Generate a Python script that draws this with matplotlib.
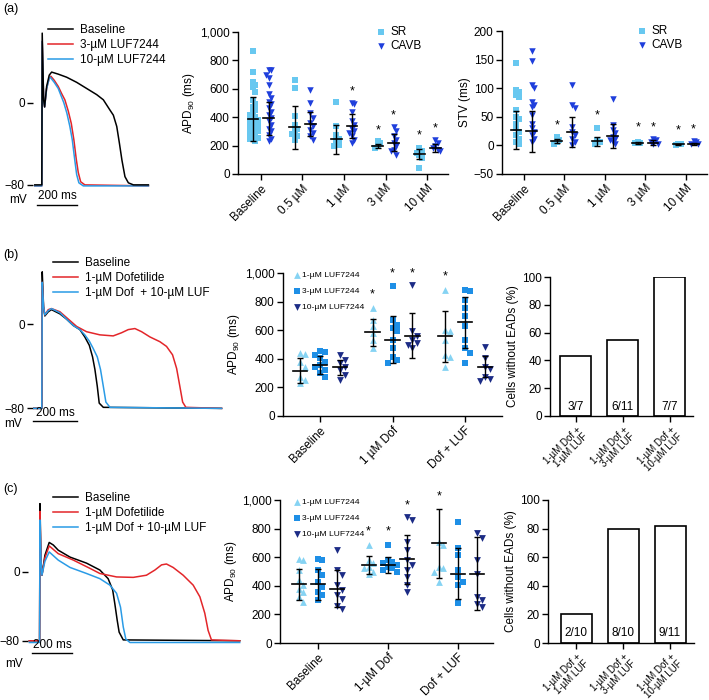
import numpy as np
import matplotlib
matplotlib.use('Agg')
from matplotlib import pyplot as plt
from matplotlib.ticker import FuncFormatter

plt.rcParams['font.family'] = ['Liberation Sans', 'DejaVu Sans']
plt.rcParams['mathtext.fontset'] = 'custom'
plt.rcParams['mathtext.rm'] = 'Liberation Sans'
plt.rcParams['mathtext.default'] = 'regular'
plt.rcParams['font.size'] = 8
plt.rcParams['axes.linewidth'] = 1.0

# ---------------- action potential traces (ms, mV) ----------------
a_base_t = [-37, -2, 0, 7, 12, 22, 35, 47, 80, 122, 172, 222, 272, 305, 338, 355, 372, 385, 398, 413, 430, 455, 530]
a_base_v = [-80, -80, 68, 3, -4, 16, 27, 30, 28, 25, 20, 14, 8, 3, -7, -12, -23, -39, -56, -72, -78, -80, -80]
a_luf3_t = [-37, -2, 0, 7, 12, 22, 35, 43, 60, 80, 97, 113, 130, 145, 158, 170, 180, 192, 213, 530]
a_luf3_v = [-81, -81, 60, 3, -4, 14, 24, 26, 22, 16, 9, 3, -8, -20, -36, -55, -68, -77, -80, -81]
a_luf10_t = [-37, -2, 0, 7, 12, 22, 35, 40, 60, 80, 92, 108, 123, 138, 150, 162, 172, 183, 205, 530]
a_luf10_v = [-81, -81, 60, 3, -4, 14, 24, 25, 20, 14, 8, 0, -10, -23, -36, -55, -70, -78, -81, -81]

b_base_t = [-50, -2, 0, 6, 12, 28, 43, 82, 113, 144, 175, 198, 219, 234, 245, 256, 265, 284, 834]
b_base_v = [-80, -80, 50, 17, 8, 12, 14, 10, 5, -1, -5, -12, -20, -31, -43, -59, -75, -79, -80]
b_dof_t = [-50, -2, 0, 6, 12, 28, 43, 82, 121, 160, 206, 268, 330, 369, 400, 431, 462, 501, 547, 578, 606, 625, 640, 653, 668, 834]
b_dof_v = [-80, -80, 40, 17, 9, 14, 15, 12, 5, -2, -7, -10, -11, -8, -5, -4, -7, -12, -16.5, -21, -29, -42, -59, -74, -79, -80]
b_mix_t = [-50, -2, 0, 6, 12, 28, 43, 82, 113, 144, 175, 198, 219, 237, 256, 271, 284, 296, 315, 834]
b_mix_v = [-80, -80, 40, 17, 9, 13, 15, 11, 5, -1, -5, -10, -16, -23, -31, -43, -59, -74, -79, -80]

c_base_t = [-54, -2, 0, 5, 10, 25, 47, 68, 93, 153, 237, 305, 347, 370, 381, 393, 403, 424, 1017]
c_base_v = [-80, -80, 79, 13.5, -4, 19, 34, 31, 25, 17, 10, 2, -8, -21, -37, -56, -70, -79, -80]
c_dof_t = [-54, -2, 0, 5, 10, 25, 47, 93, 170, 254, 305, 390, 475, 542, 585, 619, 644, 678, 729, 780, 814, 839, 856, 873, 1017]
c_dof_v = [-80, -80, 70, 13, -4, 16, 30, 21, 13.5, 4, -2, -6, -6.5, -4, 2, 8, 9, 5, -4, -15.5, -29, -48, -68, -79, -80]
c_mix_t = [-54, -2, 0, 5, 10, 25, 47, 93, 153, 237, 305, 356, 390, 410, 424, 437, 458, 1017]
c_mix_v = [-82, -82, 60, 13, -4, 12, 23, 13.5, 5, -2, -8, -15.5, -25, -41, -64, -78, -82, -82]

# ---------------- panel (a) APD90 and STV ----------------
a_groups = ['Baseline', '0.5 µM', '1 µM', '3 µM', '10 µM']
a_apd_sr = [
    [865, 720, 650, 625, 610, 580, 520, 490, 470, 450, 430, 415, 400, 390, 380, 370, 360, 350, 340, 330, 320, 310, 300, 290, 280, 270, 255, 245, 235],
    [665, 605, 405, 345, 320, 300, 285, 265, 240],
    [510, 335, 275, 250, 230, 205, 195],
    [235, 215, 195, 180],
    [180, 160, 145, 135, 110, 40],
]
a_apd_cavb = [
    [730, 730, 700, 675, 630, 560, 535, 510, 490, 465, 440, 415, 395, 370, 345, 320, 300, 275, 250, 230],
    [595, 500, 430, 395, 360, 335, 310, 290, 265, 240],
    [500, 490, 440, 370, 345, 320, 300, 290, 265, 240, 220],
    [330, 300, 265, 240, 215, 195, 170, 160, 135],
    [240, 215, 195, 180, 170, 160],
]
a_apd_sr_mean = [387, 329, 245, 198, 141]
a_apd_sr_sd = [154, 152, 103, 14, 36]
a_apd_cavb_mean = [393, 353, 339, 221, 181]
a_apd_cavb_sd = [115, 83, 85, 58, 29]
a_apd_star = [(2, 1, 581), (3, 0, 306), (3, 1, 412), (4, 0, 271), (4, 1, 322)]

a_stv_sr = [
    [144, 96, 94, 88, 85, 62, 50, 47, 38, 30, 24, 18, 12, 6, 3],
    [15, 9, 6, 3],
    [30, 9, 6, 3],
    [6, 5, 4],
    [3, 2, 1],
]
a_stv_cavb = [
    [165, 147, 105, 101, 76, 70, 67, 53, 38, 30, 24, 18, 12, 6],
    [106, 70, 65, 33, 24, 18, 12, 6, 1],
    [81, 35, 27, 21, 15, 12, 9, 6, 3],
    [12, 9, 6, 3, 2],
    [8, 6, 3, 2],
]
a_stv_sr_mean = [27, 7.5, 7.5, 4, 2]
a_stv_sr_sd = [33, 4, 8, 2, 1]
a_stv_cavb_mean = [25, 23, 16, 5, 3]
a_stv_cavb_sd = [36, 26, 21, 5, 2]
a_stv_star = [(1, 0, 35), (2, 0, 53), (3, 0, 31), (3, 1, 32), (4, 0, 27), (4, 1, 28)]

# ---------------- panel (b) / (c) APD90 with LUF7244 ----------------
b_groups = ['Baseline', '1 µM Dof', 'Dof + LUF']
b_luf1 = [[439, 435, 381, 346, 276, 252, 229], [755, 673, 626, 579, 533, 474], [883, 603, 591, 533, 428, 416, 346]]
b_luf3 = [[458, 451, 428, 404, 381, 357, 346, 322, 299, 276], [907, 668, 638, 614, 591, 533, 474, 416, 393, 374],
          [879, 871, 813, 755, 696, 626, 533, 474, 439, 369]]
b_luf10 = [[428, 393, 369, 346, 322, 287, 252], [918, 591, 556, 533, 509, 498, 474], [486, 409, 346, 327, 276, 257, 248]]
b_mean = [[318, 584, 556], [357, 533, 657], [341, 561, 346]]
b_sd = [[90, 93, 180], [61, 165, 178], [54, 158, 72]]
b_star = [(1, 0, 848), (1, 1, 1000), (1, 2, 1000), (2, 0, 977)]

c_groups = ['Baseline', '1-µM Dof', 'Dof + LUF']
c_luf1 = [[584, 579, 509, 439, 404, 381, 357, 322, 287], [685, 579, 556, 533, 521, 498, 486], [708, 685, 533, 521, 498, 428]]
c_luf3 = [[584, 579, 509, 474, 428, 393, 357, 334, 299], [685, 579, 568, 556, 544, 533, 521, 509, 498],
          [848, 661, 614, 509, 463, 428, 404, 280]]
c_luf10 = [[650, 509, 474, 404, 369, 334, 311, 259, 241], [879, 860, 708, 650, 579, 544, 509, 463, 404, 357],
           [766, 731, 579, 486, 322, 299, 276, 252]]
c_mean = [[411, 544, 696], [411, 544, 486], [381, 584, 486]]
c_sd = [[108, 61, 242], [108, 56, 175], [128, 170, 253]]
c_star = [(1, 0, 778), (1, 1, 778), (1, 2, 965), (2, 0, 1023)]

# ---------------- cells without EADs ----------------
ead_labels = ['1-µM Dof +\n1-µM LUF', '1-µM Dof +\n3-µM LUF', '1-µM Dof +\n10-µM LUF']
b_ead_n = [3, 6, 7]
b_ead_tot = [7, 11, 7]
c_ead_n = [2, 8, 9]
c_ead_tot = [10, 10, 11]

# colours
col_sr = '#68c8f0'
col_cavb = '#1f3fdc'
col_l1 = '#86d3f3'
col_l3 = '#1e8fe6'
col_l10 = '#1c2c86'

W, H = 709, 700
fig = plt.figure(figsize=(W / 100, H / 100), dpi=100)


def px_axes(left, top, right, bottom):
    return fig.add_axes([left / W, 1 - bottom / H, (right - left) / W, (bottom - top) / H])


def swarm(vals, dy, dx):
    # simple deterministic beeswarm: spread points that sit close in value
    order = np.argsort(vals)[::-1]
    offs = np.zeros(len(vals))
    placed = []
    for i in order:
        v = vals[i]
        used = {k for pv, k in placed if abs(pv - v) < dy}
        for k in [0, 1, -1, 2, -2, 3, -3, 4, -4, 5, -5]:
            if k not in used:
                break
        placed.append((v, k))
        offs[i] = k * dx
    return offs


def ap_panel(ax, traces, labels, xlim, ylim, bar_t, bar_v, txt_v, mv_t, mv_v, leg_anchor):
    for (t, v), c in zip(traces, ['black', '#e3262a', '#2a9be6']):
        ax.plot(t, v, color=c, lw=1.1)
    ax.set_xlim(*xlim)
    ax.set_ylim(*ylim)
    for s in ax.spines.values():
        s.set_visible(False)
    ax.set_xticks([])
    ax.set_yticks([0, -80])
    ax.set_yticklabels(['0', '\u221280'])
    ax.tick_params(axis='y', length=4, width=1, pad=2, labelsize=8.5)
    ax.plot(bar_t, [bar_v, bar_v], color='black', lw=1, clip_on=False)
    ax.text(np.mean(bar_t), txt_v, '200 ms', ha='center', va='bottom', fontsize=8.5, clip_on=False)
    ax.text(mv_t, mv_v, 'mV', ha='center', va='center', fontsize=8.5, clip_on=False)
    handles = ax.get_lines()[:3]
    ax.legend(handles, labels, loc='upper left', bbox_to_anchor=leg_anchor, bbox_transform=fig.transFigure,
              frameon=False, fontsize=8.5, handlelength=2.1, handletextpad=0.6, labelspacing=0.25,
              borderpad=0, borderaxespad=0)


def mean_sd(ax, x, m, sd, hw):
    ax.errorbar(x, m, yerr=sd, fmt='none', ecolor='black', elinewidth=1, capsize=2.5, capthick=1, zorder=5)
    ax.plot([x - hw, x + hw], [m, m], color='black', lw=1.2, zorder=5)


def style_scatter(ax, xlim, ylim, yticks, groups, ylabel, fmt=None):
    ax.set_xlim(*xlim)
    ax.set_ylim(*ylim)
    ax.spines['top'].set_visible(False)
    ax.spines['right'].set_visible(False)
    ax.set_yticks(yticks)
    if fmt:
        ax.yaxis.set_major_formatter(FuncFormatter(fmt))
    ax.set_xticks(range(len(groups)))
    ax.set_xticklabels(groups, rotation=45, ha='right', rotation_mode='anchor')
    ax.tick_params(length=4, width=1, labelsize=8.5, pad=2)
    ax.set_ylabel(ylabel, fontsize=8.5, labelpad=2)


comma = lambda v, p: '{:,.0f}'.format(v)

# ===== (a) =====
ax = px_axes(33, 28, 150, 190)
ap_panel(ax, [(a_base_t, a_base_v), (a_luf3_t, a_luf3_v), (a_luf10_t, a_luf10_v)],
         ['Baseline', '3-µM LUF7244', '10-µM LUF7244'], (-46, 538), (-85, 73),
         [-26, 174], -99.6, -97, -122, -95, (48 / W, 1 - 24 / H))
ax.get_lines()[0].set_zorder(4)
fig.text(3 / W, 1 - 9 / H, '(a)', fontsize=9, va='center')

ax = px_axes(238, 32, 448, 174)
off = 0.19
for g in range(5):
    xs = g - off + swarm(a_apd_sr[g], 40, 0.06)
    ax.scatter(xs, a_apd_sr[g], marker='s', s=18, color=col_sr, lw=0, zorder=2, label='SR' if g == 0 else None)
    xs = g + off + swarm(a_apd_cavb[g], 40, 0.06)
    ax.scatter(xs, a_apd_cavb[g], marker='v', s=22, color=col_cavb, lw=0, zorder=3, label='CAVB' if g == 0 else None)
    mean_sd(ax, g - off, a_apd_sr_mean[g], a_apd_sr_sd[g], 0.13)
    mean_sd(ax, g + off, a_apd_cavb_mean[g], a_apd_cavb_sd[g], 0.13)
for g, k, y in a_apd_star:
    ax.text(g + (off if k else -off), y, '*', ha='center', va='center', fontsize=9)
style_scatter(ax, (-0.55, 4.5), (0, 1000), range(0, 1001, 200), a_groups, 'APD$_{90}$ (ms)', comma)
ax.legend(loc='upper left', bbox_to_anchor=(376 / W, 1 - 26 / H), bbox_transform=fig.transFigure, frameon=False,
          fontsize=8.5, handlelength=0.8, handletextpad=0.4, labelspacing=0.15, borderpad=0, borderaxespad=0,
          scatterpoints=1)

ax = px_axes(502, 31, 707, 174)
for g in range(5):
    xs = g - off + swarm(a_stv_sr[g], 8, 0.06)
    ax.scatter(xs, a_stv_sr[g], marker='s', s=18, color=col_sr, lw=0, zorder=2, label='SR' if g == 0 else None)
    xs = g + off + swarm(a_stv_cavb[g], 8, 0.06)
    ax.scatter(xs, a_stv_cavb[g], marker='v', s=22, color=col_cavb, lw=0, zorder=3, label='CAVB' if g == 0 else None)
    mean_sd(ax, g - off, a_stv_sr_mean[g], a_stv_sr_sd[g], 0.13)
    mean_sd(ax, g + off, a_stv_cavb_mean[g], a_stv_cavb_sd[g], 0.13)
for g, k, y in a_stv_star:
    ax.text(g + (off if k else -off), y, '*', ha='center', va='center', fontsize=9)
style_scatter(ax, (-0.54, 4.52), (-50, 200), range(-50, 201, 50), a_groups, 'STV (ms)',
              lambda v, p: '{:.0f}'.format(v).replace('-', '\u2212'))
ax.legend(loc='upper left', bbox_to_anchor=(637 / W, 1 - 25 / H), bbox_transform=fig.transFigure, frameon=False,
          fontsize=8.5, handlelength=0.8, handletextpad=0.4, labelspacing=0.15, borderpad=0, borderaxespad=0,
          scatterpoints=1)


def luf_panel(ax, l1, l3, l10, mean, sd, stars, groups, xlim, leg_top):
    off = 0.275
    sets = [(l1, '^', col_l1, '1-µM LUF7244'), (l3, 's', col_l3, '3-µM LUF7244'), (l10, 'v', col_l10, '10-µM LUF7244')]
    for k, (vals, mk, col, lab) in enumerate(sets):
        for g in range(3):
            xc = g + (k - 1) * off
            xs = xc + swarm(vals[g], 45, 0.065)
            ax.scatter(xs, vals[g], marker=mk, s=24, color=col, lw=0, zorder=2 + k, label=lab if g == 0 else None)
            mean_sd(ax, xc, mean[k][g], sd[k][g], 0.1)
    for g, k, y in stars:
        ax.text(g + (k - 1) * off, y, '*', ha='center', va='center', fontsize=9)
    style_scatter(ax, xlim, (0, 1000), range(0, 1001, 200), groups, 'APD$_{90}$ (ms)', comma)
    ax.legend(loc='upper left', bbox_to_anchor=(294 / W, 1 - leg_top / H), bbox_transform=fig.transFigure,
              frameon=False, fontsize=6.1, handlelength=0.8, handletextpad=0.15, labelspacing=0.95, borderpad=0,
              borderaxespad=0, scatterpoints=1)


def ead_panel(ax, n, tot, xlim):
    vals = [100.0 * a / b for a, b in zip(n, tot)]
    ax.bar(range(3), vals, width=0.66, color='white', edgecolor='black', lw=1.2)
    for i, (a, b) in enumerate(zip(n, tot)):
        ax.text(i, 2.5, '%d/%d' % (a, b), ha='center', va='bottom', fontsize=8.5)
    ax.set_xlim(*xlim)
    ax.set_ylim(0, 100)
    ax.spines['top'].set_visible(False)
    ax.spines['right'].set_visible(False)
    ax.set_yticks(range(0, 101, 20))
    ax.set_xticks(range(3))
    ax.set_xticklabels(ead_labels, rotation=45, ha='right', rotation_mode='anchor', fontsize=7,
                       linespacing=1.0)
    ax.tick_params(length=4, width=1, labelsize=8.5, pad=2)
    ax.tick_params(axis='x', labelsize=7)
    ax.set_ylabel('Cells without EADs (%)', fontsize=8.5, labelpad=2)


# ===== (b) =====
ax = px_axes(33, 265, 225, 415)
ap_panel(ax, [(b_base_t, b_base_v), (b_dof_t, b_dof_v), (b_mix_t, b_mix_v)],
         ['Baseline', '1-µM Dofetilide', '1-µM Dof  + 10-µM LUF'], (-43, 850), (-86.3, 56.5),
         [-43, 161], -91.8, -90, -134, -94.5, (53 / W, 1 - 257 / H))
fig.text(3 / W, 1 - 255 / H, '(b)', fontsize=9, va='center')

ax = px_axes(283, 273, 502, 416)
luf_panel(ax, b_luf1, b_luf3, b_luf10, b_mean, b_sd, b_star, b_groups, (-0.51, 2.51), 271)
ax = px_axes(550, 277, 693, 416)
ead_panel(ax, b_ead_n, b_ead_tot, (-0.55, 2.49))

# ===== (c) =====
ax = px_axes(28, 495, 247, 650)
ap_panel(ax, [(c_base_t, c_base_v), (c_dof_t, c_dof_v), (c_mix_t, c_mix_v)],
         ['Baseline', '1-µM Dofetilide', '1-µM Dof + 10-µM LUF'], (-61, 1054), (-90.7, 89),
         [-41, 163], -93.9, -92, -132, -107, (53 / W, 1 - 492 / H))
fig.text(3 / W, 1 - 489 / H, '(c)', fontsize=9, va='center')

ax = px_axes(280, 500, 493, 643)
luf_panel(ax, c_luf1, c_luf3, c_luf10, c_mean, c_sd, c_star, c_groups, (-0.54, 2.5), 498)
ax = px_axes(548, 500, 694, 643)
ead_panel(ax, c_ead_n, c_ead_tot, (-0.6, 2.51))

fig.savefig('out.png', dpi=100, facecolor='white')
